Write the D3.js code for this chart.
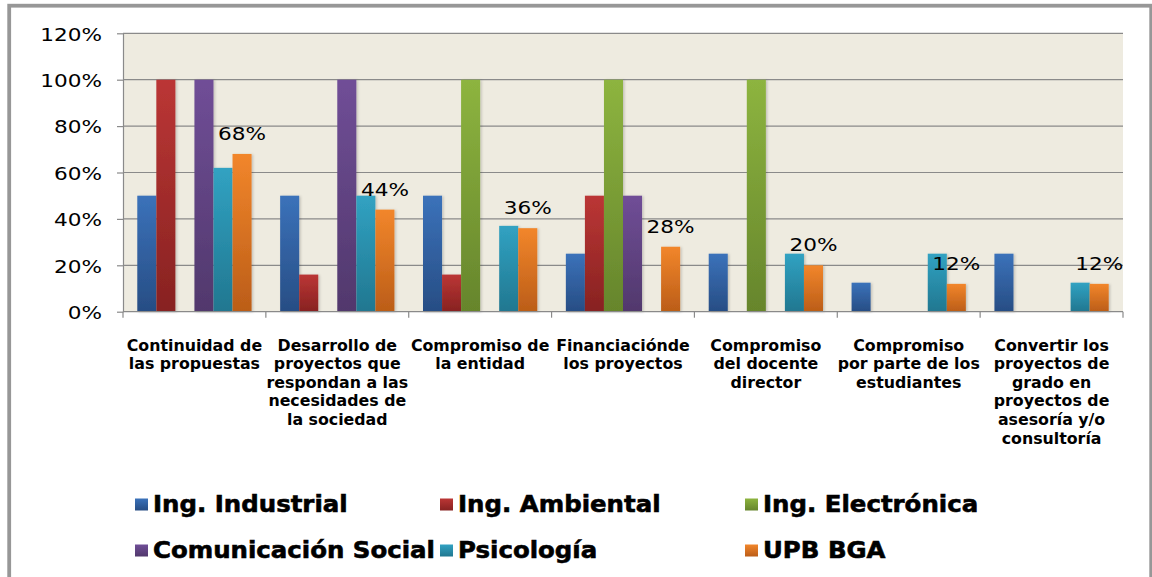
<!DOCTYPE html>
<html>
<head>
<meta charset="utf-8">
<script src="https://cdn.jsdelivr.net/npm/d3@7/dist/d3.min.js"></script>
<style>
  html, body { margin: 0; padding: 0; background: #fff; }
  svg { display: block; }
</style>
</head>
<body>
<svg id="chart" width="1152" height="577"></svg>
<script>
// Categories (line breaks mark how each label wraps under the axis)
const categories = [
  "Continuidad de\nlas propuestas",
  "Desarrollo de\nproyectos que\nrespondan a las\nnecesidades de\nla sociedad",
  "Compromiso de\nla entidad",
  "Financiaciónde\nlos proyectos",
  "Compromiso\ndel docente\ndirector",
  "Compromiso\npor parte de los\nestudiantes",
  "Convertir los\nproyectos de\ngrado en\nproyectos de\nasesoría y/o\nconsultoría"
];

// Series names and values (percent)
const seriesNames = ["Ing. Industrial", "Ing. Ambiental", "Ing. Electrónica",
                     "Comunicación Social", "Psicología", "UPB BGA"];
const industrial   = [50, 50, 50, 25, 25, 12.5, 25];
const ambiental    = [100, 16, 16, 50, 0, 0, 0];
const electronica  = [0, 0, 100, 100, 100, 0, 0];
const comunicacion = [100, 100, 0, 50, 0, 0, 0];
const psicologia   = [62, 50, 37, 0, 25, 25, 12.5];
const upbBga       = [68, 44, 36, 28, 20, 12, 12];

// Y-axis ticks
const yTicks = [0, 20, 40, 60, 80, 100, 120];

const seriesValues = [industrial, ambiental, electronica, comunicacion, psicologia, upbBga];
const labelledSeries = 5; // only UPB BGA carries value labels

// Gradient stops (top, bottom) for each series
const seriesColors = [
  ["#3b72ba", "#274d84"],
  ["#bb3635", "#872221"],
  ["#8db43f", "#66852c"],
  ["#704e97", "#51386c"],
  ["#31a2c2", "#217790"],
  ["#f2862b", "#bb5d18"]
];

const svg = d3.select("#chart");
const plot = { left: 123, right: 1123, top: 33.3, bottom: 311.7 };

// Outer frame
svg.append("rect")
  .attr("x", 9.2).attr("y", 5.7)
  .attr("width", 1142).attr("height", 620)
  .attr("fill", "#fff")
  .attr("stroke", "#979797").attr("stroke-width", 3.8);

// Gradients
const defs = svg.append("defs");
seriesColors.forEach((c, i) => {
  const g = defs.append("linearGradient")
    .attr("id", "grad" + i)
    .attr("x1", 0).attr("y1", 0).attr("x2", 0).attr("y2", 1);
  g.append("stop").attr("offset", "0%").attr("stop-color", c[0]);
  g.append("stop").attr("offset", "100%").attr("stop-color", c[1]);
});

// Soft shadow beside each bar
const shadow = defs.append("filter").attr("id", "barShadow")
  .attr("x", "-20%").attr("y", "-5%").attr("width", "160%").attr("height", "110%");
shadow.append("feDropShadow")
  .attr("dx", 1.5).attr("dy", 0.5).attr("stdDeviation", 1.2)
  .attr("flood-color", "#000").attr("flood-opacity", 0.18);

// Scales
const x = d3.scaleBand()
  .domain(d3.range(categories.length))
  .range([plot.left, plot.right])
  .paddingInner(0).paddingOuter(0);

const xs = d3.scaleBand()
  .domain(d3.range(seriesNames.length))
  .range([0, x.bandwidth()])
  .paddingInner(0).paddingOuter(0.75);

const y = d3.scaleLinear().domain([0, 120]).range([plot.bottom, plot.top]);

// Plot background
svg.append("rect")
  .attr("x", plot.left).attr("y", plot.top)
  .attr("width", plot.right - plot.left)
  .attr("height", plot.bottom - plot.top)
  .attr("fill", "#eeebe0");

// Horizontal gridlines
svg.append("g")
  .selectAll("line")
  .data(yTicks.filter(d => d > 0))
  .join("line")
  .attr("x1", plot.left).attr("x2", plot.right)
  .attr("y1", d => y(d)).attr("y2", d => y(d))
  .attr("stroke", "#8a8a8a").attr("stroke-width", 1.2);

// Y axis
const yAxis = svg.append("g")
  .attr("transform", `translate(${plot.left},0)`)
  .call(d3.axisLeft(y).tickValues(yTicks).tickFormat(d => d + "%").tickSize(6).tickSizeOuter(0));
yAxis.select(".domain").attr("stroke", "#8a8a8a").attr("stroke-width", 1.2);
yAxis.selectAll(".tick line").attr("stroke", "#8a8a8a").attr("stroke-width", 1.2);
yAxis.selectAll(".tick text")
  .attr("x", -21 / 1.2)
  .attr("dy", "0.38em")
  .attr("transform", "scale(1.2,1)")
  .attr("fill", "#000")
  .style("font-family", "'DejaVu Sans', Verdana, sans-serif")
  .style("font-size", "18px");

// Bars
const barGroups = svg.append("g");
seriesValues.forEach((vals, si) => {
  barGroups.append("g")
    .selectAll("rect")
    .data(vals.map((v, ci) => ({ v, ci })).filter(d => d.v > 0))
    .join("rect")
    .attr("x", d => x(d.ci) + xs(si))
    .attr("width", xs.bandwidth())
    .attr("y", d => y(d.v))
    .attr("height", d => y(0) - y(d.v))
    .attr("fill", `url(#grad${si})`)
    .attr("filter", "url(#barShadow)");
});

// Bottom axis line with category boundary ticks
svg.append("line")
  .attr("x1", plot.left).attr("x2", plot.right)
  .attr("y1", y(0)).attr("y2", y(0))
  .attr("stroke", "#8a8a8a").attr("stroke-width", 1.2);
const boundaries = x.domain().map(d => x(d)).concat([x.range()[1]]);
svg.append("g")
  .selectAll("line")
  .data(boundaries)
  .join("line")
  .attr("x1", d => d).attr("x2", d => d)
  .attr("y1", y(0)).attr("y2", y(0) + 6)
  .attr("stroke", "#8a8a8a").attr("stroke-width", 1.2);

// Value labels over UPB BGA bars
svg.append("g")
  .selectAll("text")
  .data(seriesValues[labelledSeries].map((v, ci) => ({ v, ci })))
  .join("text")
  .attr("transform", d => `translate(${x(d.ci) + xs(labelledSeries) + xs.bandwidth() / 2},${y(d.v) - 14}) scale(1.2,1)`)
  .attr("text-anchor", "middle")
  .attr("fill", "#000")
  .style("font-family", "'DejaVu Sans', Verdana, sans-serif")
  .style("font-size", "18px")
  .text(d => d.v + "%");

// Category labels
const catLabels = svg.append("g")
  .selectAll("text")
  .data(categories)
  .join("text")
  .attr("text-anchor", "middle")
  .attr("fill", "#000")
  .style("font-family", "'DejaVu Sans', Verdana, sans-serif")
  .style("font-weight", "bold")
  .style("font-size", "15.8px");
catLabels.each(function (d, i) {
  const t = d3.select(this);
  d.split("\n").forEach((line, li) => {
    t.append("tspan")
      .attr("x", x(i) + x.bandwidth() / 2)
      .attr("y", 350.5 + li * 18.6)
      .text(line);
  });
});

// Legend (3 columns x 2 rows)
const legend = svg.append("g");
seriesNames.forEach((name, i) => {
  const col = i % 3, row = Math.floor(i / 3);
  const lx = 135 + col * 305;
  const ly = 511.5 + row * 46;
  legend.append("rect")
    .attr("x", lx).attr("y", ly - 13)
    .attr("width", 13).attr("height", 12)
    .attr("fill", `url(#grad${i})`);
  legend.append("text")
    .attr("transform", `translate(${lx + 18},${ly}) scale(1.04,1)`)
    .attr("fill", "#000")
    .attr("stroke", "#000").attr("stroke-width", 0.6)
    .style("font-family", "'DejaVu Sans', Verdana, sans-serif")
    .style("font-weight", "bold")
    .style("font-size", "23.5px")
    .text(name);
});
</script>
</body>
</html>
